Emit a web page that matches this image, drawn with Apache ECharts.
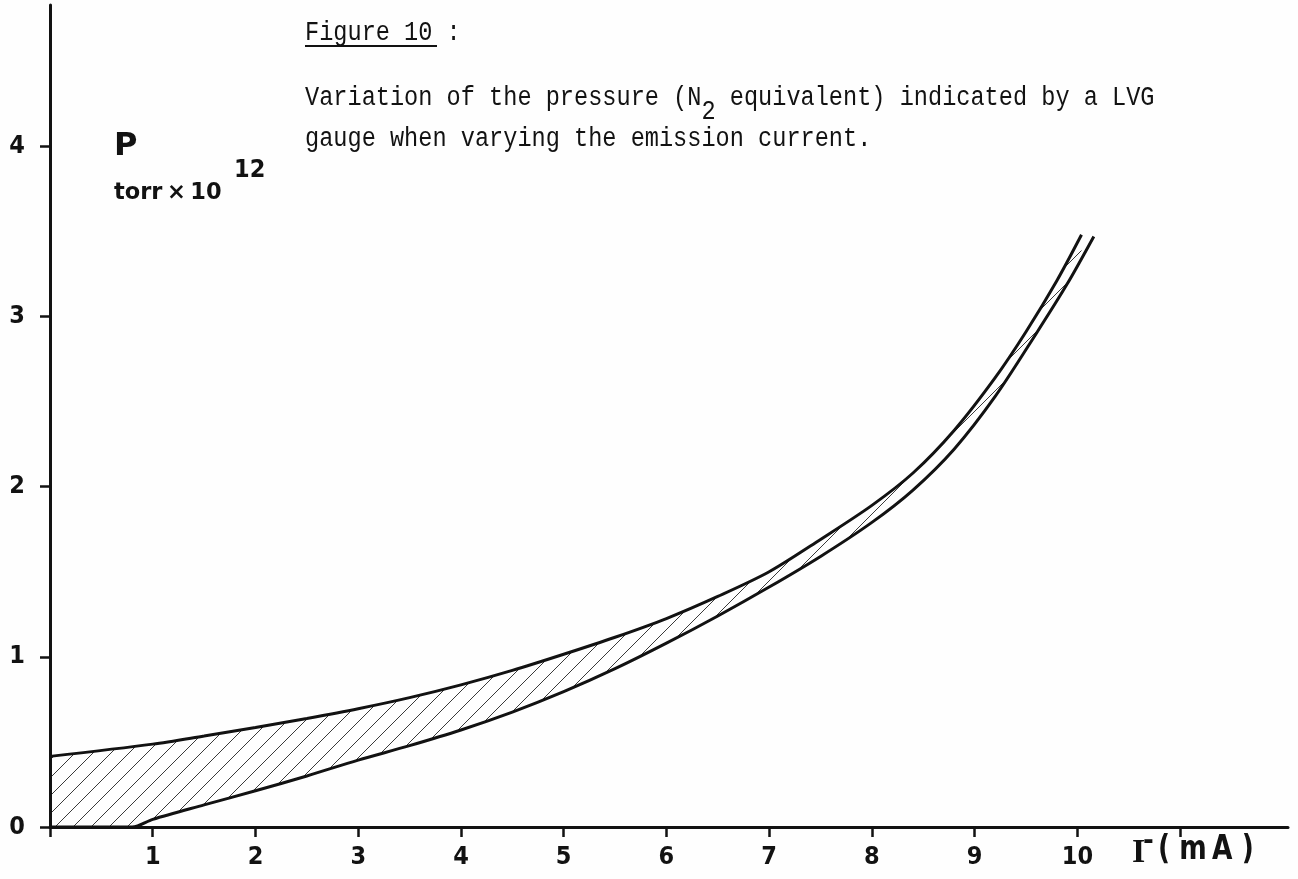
<!DOCTYPE html>
<html>
<head>
<meta charset="utf-8">
<title>Figure 10 – LVG gauge pressure vs emission current</title>
<script src="https://cdn.jsdelivr.net/npm/echarts@6/dist/echarts.min.js"></script>
<style>
  html, body { margin: 0; padding: 0; background: #fefefe; }
  #chart { width: 1298px; height: 879px; }
</style>
</head>
<body>
<div id="chart"></div>
<script>
// Upper bound of the indicated pressure band: emission current (mA) -> pressure (torr x 10^12)
const currentUpper  = [0, 1, 1.5, 2, 2.5, 3, 3.5, 4, 4.5, 5, 5.5, 6, 6.5, 7, 7.5, 8, 8.4, 8.8, 9.2, 9.5, 9.8, 10.04];
const pressureUpper = [0.415, 0.487, 0.535, 0.585, 0.638, 0.695, 0.76, 0.835, 0.92, 1.015, 1.115, 1.225, 1.355, 1.50, 1.69, 1.89, 2.08, 2.33, 2.64, 2.91, 3.21, 3.48];

// Lower bound of the band
const currentLower  = [0, 0.8, 1, 1.5, 2, 2.5, 3, 3.5, 4, 4.5, 5, 5.5, 6, 6.5, 7, 7.5, 8, 8.4, 8.8, 9.2, 9.6, 9.9, 10.16];
const pressureLower = [0, 0, 0.045, 0.13, 0.213, 0.30, 0.393, 0.478, 0.57, 0.675, 0.795, 0.93, 1.08, 1.24, 1.41, 1.59, 1.79, 1.98, 2.22, 2.53, 2.90, 3.19, 3.47];

// Axis ticks and labels
const xTickValues  = [0, 1, 2, 3, 4, 5, 6, 7, 8, 9, 10, 11];
const xLabelValues = [1, 2, 3, 4, 5, 6, 7, 8, 9, 10];
const yTickValues  = [0, 1, 2, 3, 4];
const yLabelValues = [0, 1, 2, 3, 4];

const INK = '#121212';
const PAPER = '#fefefe';
const tickFont = "'Liberation Sans Narrow', 'DejaVu Sans Condensed', 'DejaVu Sans', sans-serif";
const typeFont = "'Liberation Mono', 'DejaVu Sans Mono', monospace";
const TYPE_SIZE = 23.6;           // typewriter caption size
const TYPE_ADV = TYPE_SIZE * 0.6; // monospace character advance
const TYPE_STRETCH = 1.15;        // tall typewriter letterforms

// Diagonal "/" hatching tile used to fill the band between the two curves
function makeHatch(step, color) {
  const c = document.createElement('canvas');
  c.width = step; c.height = step;
  const ctx = c.getContext('2d');
  ctx.fillStyle = PAPER;
  ctx.fillRect(0, 0, step, step);
  ctx.strokeStyle = color;
  ctx.lineWidth = 1;
  ctx.beginPath();
  for (const k of [-step, 0, step]) {
    ctx.moveTo(k, step);
    ctx.lineTo(k + step, 0);
  }
  ctx.stroke();
  return c;
}

const zip = (xs, ys) => xs.map((x, i) => [x, ys[i]]);

// one line of typewritten caption, anchored at its top-left corner
function typeLine(text, x, y) {
  return {
    type: 'text', x: x, y: y, scaleY: TYPE_STRETCH,
    style: { text: text, x: 0, y: 0, font: `${TYPE_SIZE}px ${typeFont}`, fill: INK, align: 'left', verticalAlign: 'top' }
  };
}

const chart = echarts.init(document.getElementById('chart'), null, { renderer: 'canvas' });

chart.setOption({
  backgroundColor: PAPER,
  animation: false,
  grid: { left: 50, right: 10, top: 5, bottom: 52, containLabel: false, outerBoundsMode: 'none' },
  xAxis: {
    type: 'value', min: 0, max: 12.05, z: 10,
    axisLine: { show: true, onZero: false, lineStyle: { color: INK, width: 3 } },
    axisTick: { show: true, customValues: xTickValues, length: 10, lineStyle: { color: INK, width: 2.5 } },
    axisLabel: {
      customValues: xLabelValues, margin: 18,
      color: INK, fontSize: 25, fontWeight: 'bold', fontFamily: tickFont
    },
    splitLine: { show: false }
  },
  yAxis: {
    type: 'value', min: 0, max: 4.83, z: 10,
    axisLine: { show: true, onZero: false, lineStyle: { color: INK, width: 3 } },
    axisTick: { show: true, customValues: yTickValues, length: 10, lineStyle: { color: INK, width: 2.5 } },
    axisLabel: {
      customValues: yLabelValues, margin: 25,
      color: INK, fontSize: 25, fontWeight: 'bold', fontFamily: tickFont
    },
    splitLine: { show: false }
  },
  series: [
    {
      name: 'upper', type: 'line', z: 2, silent: true,
      data: zip(currentUpper, pressureUpper),
      smooth: 0.3, symbol: 'none',
      lineStyle: { color: INK, width: 3 },
      areaStyle: { color: { image: makeHatch(18, '#3a3a3a'), repeat: 'repeat' }, opacity: 1 }
    },
    {
      name: 'lower', type: 'line', z: 3, silent: true,
      data: zip(currentLower, pressureLower),
      smooth: 0.3, symbol: 'none',
      lineStyle: { color: INK, width: 3 },
      areaStyle: { color: PAPER, opacity: 1 }
    }
  ],
  graphic: [
    // caption, typewritten
    typeLine('Figure 10 :', 305, 19),
    { type: 'line', shape: { x1: 305, y1: 46, x2: 437, y2: 46 }, style: { stroke: INK, lineWidth: 1.8 } },
    typeLine('Variation of the pressure (N  equivalent) indicated by a LVG', 305, 84),
    typeLine('2', 305 + 28 * TYPE_ADV, 98),
    typeLine('gauge when varying the emission current.', 305, 125),
    // y axis title
    { type: 'text', left: 114, top: 131, style: { text: 'P', font: "bold 32px 'DejaVu Sans', sans-serif", fill: INK } },
    { type: 'text', left: 114, top: 182, style: { text: 'torr\u2009×\u200910', font: "bold 22.5px 'DejaVu Sans', sans-serif", fill: INK } },
    { type: 'text', left: 234, top: 158, style: { text: '12', font: `bold 25px ${tickFont}`, fill: INK } },
    // x axis title
    { type: 'text', left: 1132, top: 836, style: { text: 'I', font: "bold 34px 'Liberation Serif', serif", fill: INK } },
    { type: 'text', left: 1143, top: 829, style: { text: '-', font: "bold 26px 'DejaVu Sans', sans-serif", fill: INK } },
    { type: 'text', left: 1158, top: 834, scaleX: 0.8, style: { text: '( m\u2009A )', font: "bold 33px 'DejaVu Sans', sans-serif", fill: INK } }
  ]
});
</script>
</body>
</html>
